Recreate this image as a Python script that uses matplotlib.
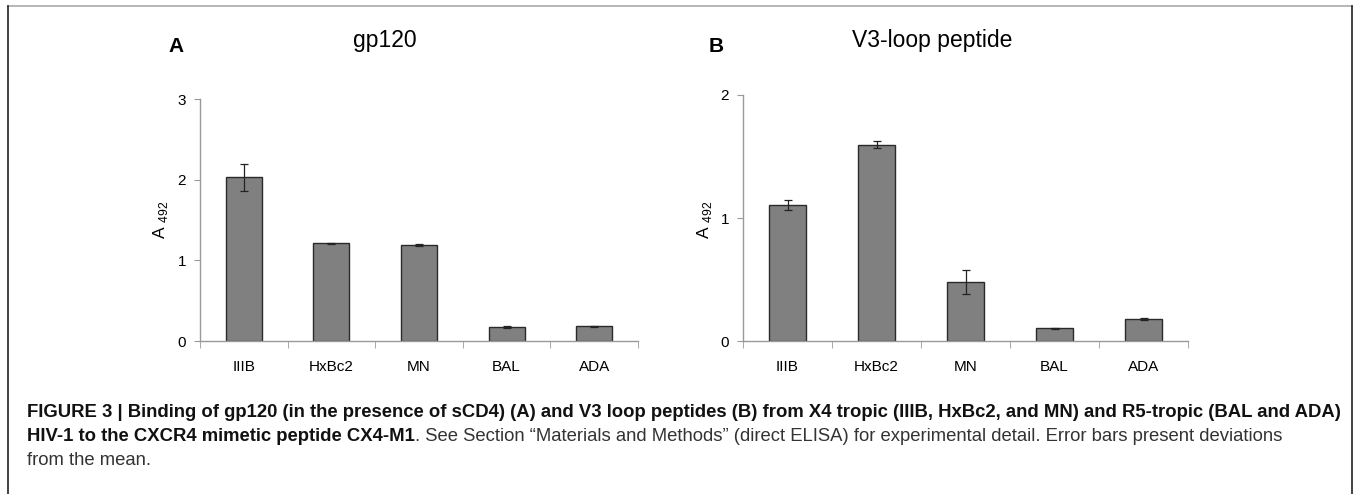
import matplotlib
matplotlib.use("Agg")
import matplotlib.pyplot as plt
from matplotlib.lines import Line2D

categories = ["IIIB", "HxBc2", "MN", "BAL", "ADA"]
gp120_values = [2.03, 1.21, 1.19, 0.17, 0.18]
gp120_errors = [0.17, 0.01, 0.01, 0.01, 0.01]
v3_values = [1.105, 1.597, 0.48, 0.103, 0.18]
v3_errors = [0.04, 0.025, 0.10, 0.003, 0.006]
gp120_yticks = [0, 1, 2, 3]
v3_yticks = [0, 1, 2]

W, H = 1354, 494
fig = plt.figure(figsize=(W / 100, H / 100), dpi=100)
plt.rcParams['font.family'] = ['Liberation Sans', 'DejaVu Sans']


def px(x0, y0, x1, y1):
    return [x0 / W, 1 - y1 / H, (x1 - x0) / W, (y1 - y0) / H]


def panel(rect, vals, errs, yticks, title, title_x, letter, letter_x, ylab_x):
    ax = fig.add_axes(px(*rect))
    x = list(range(len(categories)))
    ax.bar(x, vals, width=0.41, color="#808080", edgecolor="#2a2a2a", linewidth=1.0,
           yerr=errs, error_kw=dict(ecolor="#222222", elinewidth=0.9, capsize=2.7, capthick=0.9))
    ax.set_xlim(-0.5, len(categories) - 0.5)
    ax.set_ylim(0, yticks[-1])
    ax.set_yticks(yticks)
    ax.set_yticklabels([str(t) for t in yticks], fontsize=11)
    ax.set_xticks(x)
    ax.set_xticklabels(categories, fontsize=11)
    ax.tick_params(axis='x', length=0, pad=14)
    ax.tick_params(axis='y', length=4, color="#999999", pad=6, direction='out')
    ax.set_xticks([i - 0.5 for i in range(len(categories) + 1)], minor=True)
    ax.tick_params(axis='x', which='minor', length=5, color="#999999", direction='out')
    for s in ["top", "right"]:
        ax.spines[s].set_visible(False)
    for s in ["left", "bottom"]:
        ax.spines[s].set_color("#999999")
        ax.spines[s].set_linewidth(1.0)
    fig.text(title_x / W, 1 - 40 / H, title, fontsize=16.5, ha='center', va='center')
    fig.text(letter_x / W, 1 - 46 / H, letter, fontsize=15, fontweight='bold', ha='center', va='center')
    fig.text(ylab_x / W, 1 - 220 / H, r"A $_{\mathregular{492}}$", fontsize=12.5, rotation=90,
             ha='center', va='center')
    return ax


panel((200, 99, 638, 341), gp120_values, gp120_errors, gp120_yticks, "gp120", 385, "A", 176, 160)
panel((743, 95, 1188, 341), v3_values, v3_errors, v3_yticks, "V3-loop peptide", 932, "B", 716, 705)

# frame lines
fig.add_artist(Line2D([8 / W, 1352 / W], [1 - 6 / H, 1 - 6 / H], color="#aaaaaa", lw=1.2))
fig.add_artist(Line2D([8 / W, 8 / W], [1 - 6 / H, 0], color="#222222", lw=1.2))
fig.add_artist(Line2D([1352 / W, 1352 / W], [1 - 6 / H, 0], color="#222222", lw=1.2))

# caption
fs = 13.35
renderer = fig.canvas.get_renderer()


def rich_line(y, parts):
    xpix = 27
    for txt, bold in parts:
        t = fig.text(xpix / W, 1 - y / H, txt, fontsize=fs, fontweight='bold' if bold else 'normal',
                     color="#111111" if bold else "#333333", ha='left', va='center')
        bb = t.get_window_extent(renderer=renderer)
        xpix += bb.width


rich_line(412, [("FIGURE 3 | Binding of gp120 (in the presence of sCD4) (A) and V3 loop peptides (B) from X4 tropic (IIIB, HxBc2, and MN) and R5-tropic (BAL and ADA)", True)])
rich_line(436, [("HIV-1 to the CXCR4 mimetic peptide CX4-M1", True),
                (". See Section \u201cMaterials and Methods\u201d (direct ELISA) for experimental detail. Error bars present deviations", False)])
rich_line(460, [("from the mean.", False)])

fig.savefig("out.png", dpi=100, facecolor="white")
